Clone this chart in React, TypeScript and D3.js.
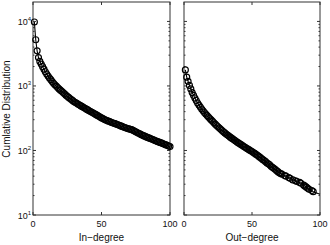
import React from 'react';
import * as d3 from 'd3';

// In-degree cumulative distribution, one value per degree 1..100
const inDegree = d3.range(1, 101);
const inValues = [
  9800, 5200, 3500, 2750, 2400, 2180, 1990, 1820, 1660, 1530,
  1420, 1330, 1250, 1170, 1100, 1045, 995, 945, 900, 860,
  825, 790, 755, 720, 690, 665, 640, 615, 592, 570,
  553, 537, 520, 505, 490, 477, 463, 450, 437, 425,
  413, 402, 391, 380, 370, 359, 349, 339, 329, 320,
  312, 304, 297, 291, 285, 280, 274, 269, 264, 260,
  255, 250, 245, 240, 236, 231, 227, 223, 219, 216,
  213, 210, 205, 200, 195, 190, 185, 181, 176, 172,
  168, 165, 161, 158, 155, 152, 149, 146, 143, 140,
  137, 135, 132, 130, 127, 125, 122, 120, 117, 115,
];

// Out-degree: the tail has gaps where no node has that degree
const outDegree = [
  1, 2, 3, 4, 5, 6, 7, 8, 9, 10,
  11, 12, 13, 14, 15, 16, 17, 18, 19, 20,
  21, 22, 23, 24, 25, 26, 27, 28, 29, 30,
  31, 32, 33, 34, 35, 36, 37, 38, 39, 40,
  41, 42, 43, 44, 45, 46, 47, 48, 49, 50,
  51, 52, 53, 54, 55, 56, 57, 58, 59, 60,
  61, 62, 63, 64, 65, 66, 67, 68, 69, 70,
  71, 72, 74, 75, 77, 78, 80, 82, 83, 85,
  86, 88, 89, 90, 91, 92, 94, 95,
];
const outValues = [
  1770, 1370, 1180, 1020, 900, 790, 715, 650, 595, 545,
  505, 470, 440, 412, 388, 367, 347, 330, 313, 298,
  283, 269, 256, 244, 233, 223, 213, 204, 195, 187,
  180, 173, 167, 161, 155, 150, 145, 140, 135, 131,
  127, 123, 119, 115, 112, 108, 105, 102, 99, 96,
  93, 90, 87, 84, 81, 78, 75, 72, 70, 67,
  64, 62, 60, 57, 55, 53, 51, 49, 47, 45,
  44, 43, 41, 40, 38, 37, 35, 34, 33, 32,
  31, 29, 28, 27, 26, 25, 24, 23,
];
// the plotted line runs on to the axis edge past the last marker
const outLineEnd = [100, 21];

const xTicks = [0, 50, 100];
const yTicks = [10, 100, 1000, 10000];
const yDomain = [10, 20000];

const FONT = '"Liberation Sans", Arial, Helvetica, sans-serif';
const AXIS = '#333';

type PanelProps = {
  left: number;
  right: number;
  xs: number[];
  ys: number[];
  tail?: number[];
  xLabel: string;
  showYLabels: boolean;
};

const top = 2;
const bottom = 215;

const Panel = ({ left, right, xs, ys, tail, xLabel, showYLabels }: PanelProps) => {
  const x = d3.scaleLinear().domain([0, 100]).range([left, right]);
  const y = d3.scaleLog().domain(yDomain).range([bottom, top]);

  const pts: [number, number][] = xs.map((d, i) => [x(d), y(ys[i])]);
  const linePts = tail ? [...pts, [x(tail[0]), y(tail[1])] as [number, number]] : pts;
  const line = d3.line()(linePts) || '';

  // minor ticks 2..9 in each decade
  const minor: number[] = [];
  for (let e = 1; e < 5; e++) {
    for (let m = 2; m <= 9; m++) {
      const v = m * Math.pow(10, e);
      if (v < yDomain[1]) minor.push(v);
    }
  }

  return (
    <g>
      <rect x={left} y={top} width={right - left} height={bottom - top} fill="#fff" stroke={AXIS} strokeWidth={1} />
      {yTicks.map(t => (
        <g key={t}>
          <line x1={left} x2={left + 3} y1={y(t)} y2={y(t)} stroke={AXIS} />
          <line x1={right} x2={right - 3} y1={y(t)} y2={y(t)} stroke={AXIS} />
          {showYLabels && (
            <text x={left - 2} y={y(t) + 3.5} textAnchor="end" fontSize={9} fontFamily={FONT} fill="#111">
              10<tspan dy={-4} fontSize={6}>{Math.round(Math.log10(t))}</tspan>
            </text>
          )}
        </g>
      ))}
      {minor.map(t => (
        <g key={'m' + t}>
          <line x1={left} x2={left + 1.5} y1={y(t)} y2={y(t)} stroke={AXIS} />
          <line x1={right} x2={right - 1.5} y1={y(t)} y2={y(t)} stroke={AXIS} />
        </g>
      ))}
      {xTicks.map(t => (
        <g key={'x' + t}>
          <line x1={x(t)} x2={x(t)} y1={bottom} y2={bottom - 3} stroke={AXIS} />
          <line x1={x(t)} x2={x(t)} y1={top} y2={top + 3} stroke={AXIS} />
          <text x={x(t)} y={227} textAnchor="middle" fontSize={9} fontFamily={FONT} fill="#111">{t}</text>
        </g>
      ))}
      <path d={line} fill="none" stroke="#000" strokeWidth={1.1} />
      {pts.map((p, i) => (
        <circle key={i} cx={p[0]} cy={p[1]} r={3} fill="none" stroke="#000" strokeWidth={1.15} />
      ))}
      <text x={(left + right) / 2} y={241} textAnchor="middle" fontSize={10} fontFamily={FONT} fill="#111">{xLabel}</text>
    </g>
  );
};

export default function App() {
  return (
    <div style={{ position: 'fixed', left: 0, top: 0, background: '#fff' }}>
      <svg width={330} height={245} style={{ display: 'block' }}>
        <rect width={330} height={245} fill="#fff" />
        <text transform="translate(10,109) rotate(-90)" textAnchor="middle" fontSize={10} fontFamily={FONT} fill="#111">
          Cumlative Distribution
        </text>
        <Panel left={33} right={170} xs={inDegree} ys={inValues} xLabel="In−degree" showYLabels={true} />
        <Panel left={184} right={320} xs={outDegree} ys={outValues} tail={outLineEnd} xLabel="Out−degree" showYLabels={false} />
      </svg>
    </div>
  );
}
